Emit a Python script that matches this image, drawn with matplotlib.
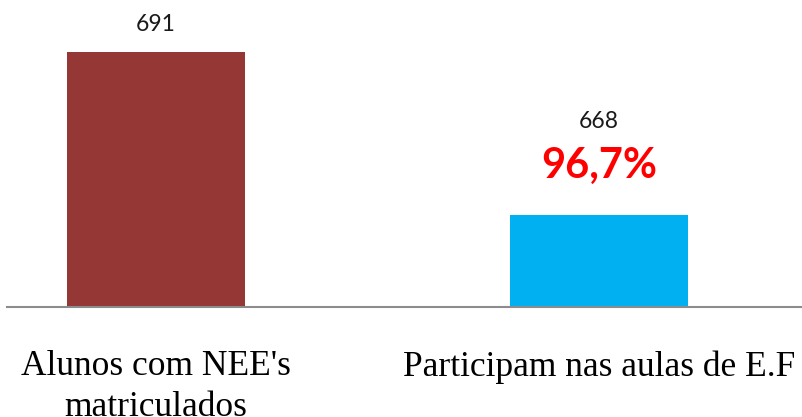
import matplotlib
matplotlib.use("Agg")
import matplotlib.pyplot as plt

categories = ["Alunos com NEE's\nmatriculados", "Participam nas aulas de E.F"]
values = [691, 668]
value_labels = ["691", "668"]
percent_label = "96,7%"
colors = ["#953735", "#00B0F0"]

W, H = 802, 417
fig = plt.figure(figsize=(W / 100, H / 100), dpi=100)
# axes: baseline at y=307px, extends to top of figure; left at x=7px
ax = fig.add_axes([7 / W, (H - 307) / H, (W - 7) / W, 307 / H])

x = [0, 1]
ax.bar(x, values, width=0.40, color=colors, zorder=2)

# scale: bar centers at 156 and 599 px (443 px per category)
ax.set_xlim(-(156 - 7) / 443, 1 + (802 - 599) / 443)
ax.set_ylim(655, 655 + 307 / 7.087)

for s in ["top", "right", "left"]:
    ax.spines[s].set_visible(False)
ax.spines["bottom"].set_color("#8c8c8c")
ax.spines["bottom"].set_linewidth(1.5)
ax.set_yticks([])
ax.set_xticks(x)
ax.set_xticklabels(categories, fontfamily="Liberation Serif", fontsize=25.5,
                   linespacing=1.3, color="#000000")
ax.tick_params(axis="x", length=0, pad=31)

offsets = [19.5, 67]
for xi, v, lab, off in zip(x, values, value_labels, offsets):
    ax.annotate(lab, (xi, v), xytext=(0, off), textcoords="offset points",
                ha="center", va="center", fontfamily="Lato", fontsize=16.5,
                color="#1a1a1a")

ax.annotate(percent_label, (x[1], values[1]), xytext=(0, 35.5),
            textcoords="offset points", ha="center", va="center",
            fontfamily="Lato", fontweight="bold", fontsize=30, color="#FF0000")

fig.savefig("out.png", dpi=100)
